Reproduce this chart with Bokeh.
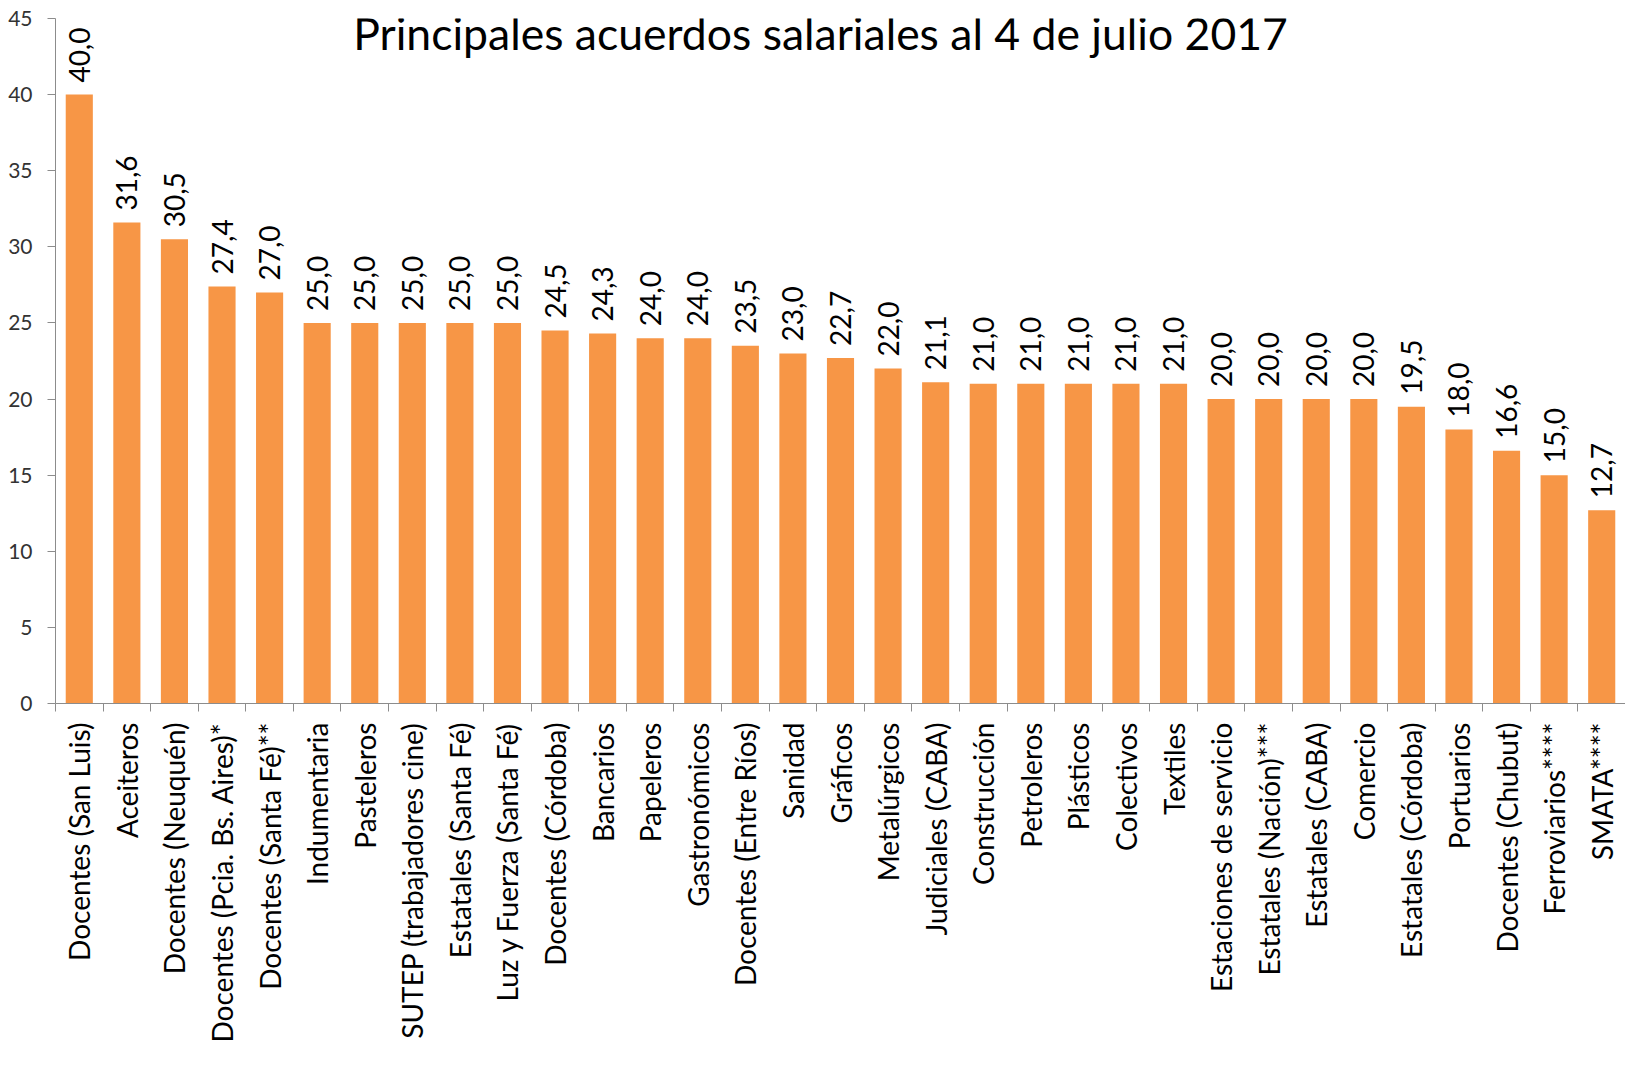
import math
from bokeh.plotting import figure
from bokeh.models import ColumnDataSource, FixedTicker, Label, Range1d
from bokeh.core.properties import value
from bokeh.embed import file_html
from bokeh.resources import INLINE

categories = ["Docentes (San Luis)", "Aceiteros", "Docentes (Neuquén)", "Docentes (Pcia. Bs. Aires)*",
              "Docentes (Santa Fé)**", "Indumentaria", "Pasteleros", "SUTEP (trabajadores cine)",
              "Estatales (Santa Fé)", "Luz y Fuerza (Santa Fé)", "Docentes (Córdoba)", "Bancarios",
              "Papeleros", "Gastronómicos", "Docentes (Entre Ríos)", "Sanidad", "Gráficos", "Metalúrgicos",
              "Judiciales (CABA)", "Construcción", "Petroleros", "Plásticos", "Colectivos", "Textiles",
              "Estaciones de servicio", "Estatales (Nación)***", "Estatales (CABA)", "Comercio",
              "Estatales (Córdoba)", "Portuarios", "Docentes (Chubut)", "Ferroviarios****", "SMATA****"]
values = [40.0, 31.6, 30.5, 27.4, 27.0, 25.0, 25.0, 25.0, 25.0, 25.0, 24.5, 24.3, 24.0, 24.0, 23.5,
          23.0, 22.7, 22.0, 21.1, 21.0, 21.0, 21.0, 21.0, 21.0, 20.0, 20.0, 20.0, 20.0, 19.5, 18.0,
          16.6, 15.0, 12.7]
y_ticks = [0, 5, 10, 15, 20, 25, 30, 35, 40, 45]
title_text = "Principales acuerdos salariales al 4 de julio 2017"

idx = list(range(len(categories)))
labels = [f"{v:.1f}".replace(".", ",") for v in values]
src = ColumnDataSource(dict(x=idx, top=values, lab=labels))

FONT = "Lato"

p = figure(width=1625, height=1050, output_backend="svg", toolbar_location=None,
           x_range=Range1d(-0.5, len(categories) - 0.5), y_range=Range1d(0, 45),
           min_border_left=55, min_border_right=0, min_border_top=18, min_border_bottom=347)
p.outline_line_color = None
p.xgrid.visible = False
p.ygrid.visible = False
p.background_fill_color = "white"
p.border_fill_color = "white"

p.vbar(x="x", top="top", width=0.57, bottom=0, source=src,
       fill_color="#F79646", line_color=None)

p.text(x="x", y="top", text="lab", source=src, angle=math.pi / 2,
       text_align="left", text_baseline="middle", y_offset=-12,
       text_font=value(FONT), text_font_size="28px", text_color="#000000")

# Y axis
p.yaxis.ticker = FixedTicker(ticks=y_ticks)
p.yaxis.axis_line_color = "#8C8C8C"
p.yaxis.major_tick_line_color = "#8C8C8C"
p.yaxis.major_tick_out = 8
p.yaxis.major_tick_in = 0
p.yaxis.minor_tick_line_color = None
p.yaxis.major_label_text_font = FONT
p.yaxis.major_label_text_font_size = "21px"
p.yaxis.major_label_text_color = "#333333"
p.yaxis.major_label_standoff = 15

# X axis
p.xaxis.ticker = FixedTicker(ticks=idx, minor_ticks=[i - 0.5 for i in range(len(categories) + 1)])
p.xaxis.major_label_overrides = {i: c for i, c in enumerate(categories)}
p.xaxis.major_label_orientation = math.pi / 2
p.xaxis.axis_line_color = "#8C8C8C"
p.xaxis.major_tick_line_color = None
p.xaxis.minor_tick_line_color = "#8C8C8C"
p.xaxis.minor_tick_out = 8
p.xaxis.minor_tick_in = 0
p.xaxis.major_label_text_font = FONT
p.xaxis.major_label_text_font_size = "28px"
p.xaxis.major_label_text_color = "#000000"
p.xaxis.major_label_standoff = 11

p.add_layout(Label(x=(len(categories) - 1) / 2, y=44.1, text=title_text, text_align="center",
                   text_baseline="middle", x_offset=-20, text_font=FONT,
                   text_font_size="44.5px", text_color="#000000"))

open("out.html", "w").write(file_html(p, INLINE))
